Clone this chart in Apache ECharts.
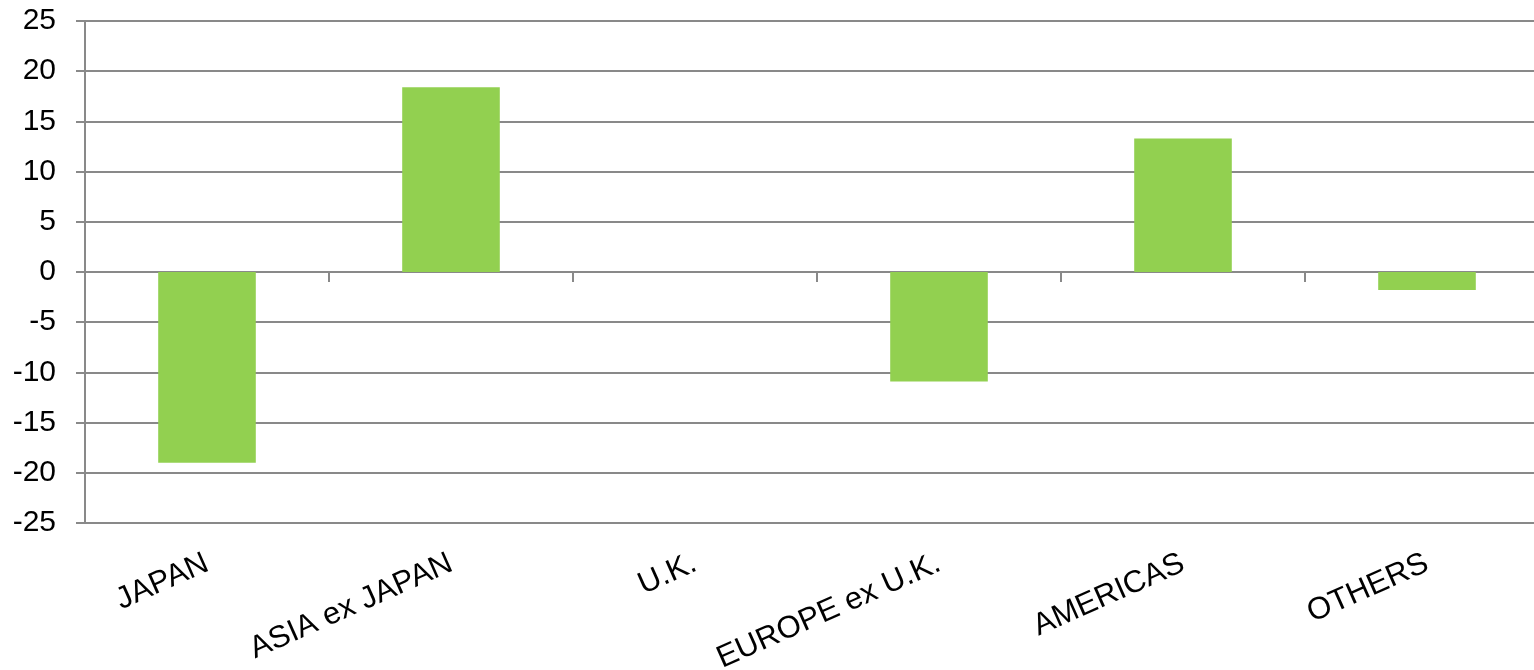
<!DOCTYPE html>
<html>
<head>
<meta charset="utf-8">
<script src="https://cdn.jsdelivr.net/npm/echarts@6/dist/echarts.min.js"></script>
<style>
html,body{margin:0;padding:0;background:#fff;}
#chart{width:1534px;height:670px;}
</style>
</head>
<body>
<div id="chart"></div>
<script>
const categories = ['JAPAN', 'ASIA ex JAPAN', 'U.K.', 'EUROPE ex U.K.', 'AMERICAS', 'OTHERS'];
const values = [-19.0, 18.4, 0, -10.9, 13.3, -1.8];
const yMin = -25, yMax = 25, yStep = 5;

const grey = '#898989';
const font = 'Liberation Sans, Arial, sans-serif';

const chart = echarts.init(document.getElementById('chart'), null, {renderer: 'canvas'});
chart.setOption({
  animation: false,
  backgroundColor: '#ffffff',
  grid: {left: 85, right: -15, top: 21, bottom: 147, containLabel: false, outerBoundsMode: 'none'},
  xAxis: [
    {
      type: 'category',
      data: categories,
      position: 'bottom',
      axisLine: {show: false, onZero: false},
      axisTick: {show: false},
      splitLine: {show: false},
      axisLabel: {
        interval: 0, rotate: 24, margin: 39,
        color: '#000', fontSize: 31, fontFamily: font
      }
    },
    {
      type: 'category',
      data: categories,
      position: 'top',
      axisLine: {show: true, onZero: true, lineStyle: {color: grey, width: 2}},
      axisTick: {show: true, inside: true, length: 10, lineStyle: {color: grey, width: 2}},
      axisLabel: {show: false},
      splitLine: {show: false}
    }
  ],
  yAxis: {
    type: 'value',
    min: yMin, max: yMax, interval: yStep,
    axisLine: {show: true, lineStyle: {color: grey, width: 2}},
    axisTick: {show: true, length: 9, lineStyle: {color: grey, width: 2}},
    splitLine: {show: true, lineStyle: {color: grey, width: 2}},
    axisLabel: {color: '#000', fontSize: 30, fontFamily: font, margin: 29}
  },
  series: [{
    type: 'bar',
    xAxisIndex: 0,
    data: values,
    barWidth: '40%',
    itemStyle: {color: '#92D050'}
  }]
});
</script>
</body>
</html>
